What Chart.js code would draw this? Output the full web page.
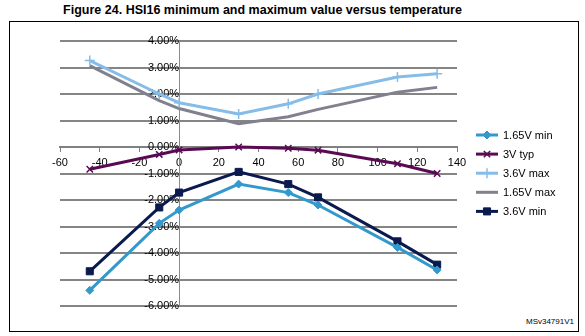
<!DOCTYPE html>
<html>
<head>
<meta charset="utf-8">
<script src="https://cdn.jsdelivr.net/npm/chart.js@4/dist/chart.umd.min.js"></script>
<style>
  html, body { margin: 0; padding: 0; background: #fff; }
  body { width: 585px; height: 336px; position: relative; overflow: hidden; font-family: "Liberation Sans", Arial, sans-serif; }
  #title { position: absolute; left: 0; width: 525px; top: 3px; text-align: center; font-weight: bold; font-size: 12.5px; color: #000; }
  #frame { position: absolute; left: 9px; top: 21px; width: 568px; height: 309px; border: 1px solid #000; }
  #ref { position: absolute; right: 11px; top: 317px; font-size: 8px; color: #000; }
  #wrap { position: absolute; left: 0; top: 0; width: 585px; height: 336px; }
</style>
</head>
<body>
<div id="title">Figure 24. HSI16 minimum and maximum value versus temperature</div>
<div id="frame"></div>
<div id="ref">MSv34791V1</div>
<div id="wrap"><canvas id="c" width="585" height="336"></canvas></div>
<script>
// ---- data (values in %) ----
const temperatures = [-45, -10, 0, 30, 55, 70, 110, 130];
const min165V = [-5.41, -2.88, -2.38, -1.40, -1.72, -2.19, -3.79, -4.64];
const typ3V   = [-0.84, -0.28, -0.11, 0.00, -0.05, -0.12, -0.63, -1.00];
const max36V  = [3.26, 2.00, 1.67, 1.25, 1.63, 2.00, 2.64, 2.76];
const max165V = [3.07, 1.75, 1.45, 0.88, 1.14, 1.42, 2.07, 2.25];
const min36V  = [-4.69, -2.28, -1.72, -0.94, -1.40, -1.90, -3.56, -4.44];
const seriesNames = ['1.65V min', '3V typ', '3.6V max', '1.65V max', '3.6V min'];
const xTicks = [-60, -40, -20, 0, 20, 40, 60, 80, 100, 120, 140];
const yTicks = [4, 3, 2, 1, 0, -1, -2, -3, -4, -5, -6];

const pts = arr => arr.map((v, i) => ({x: temperatures[i], y: v}));

const styles = [
  {color: '#3399CC', pointStyle: 'rectRot', radius: 4},
  {color: '#5A0A52', pointStyle: 'crossRot', radius: 4.5},
  {color: '#85BDE8', pointStyle: 'cross', radius: 5},
  {color: '#80808E', pointStyle: false, radius: 0},
  {color: '#0B1A4E', pointStyle: 'rect', radius: 5}
];
const seriesData = [min165V, typ3V, max36V, max165V, min36V];

const datasets = seriesData.map((d, i) => ({
  label: seriesNames[i],
  data: pts(d),
  borderColor: styles[i].color,
  backgroundColor: styles[i].color,
  borderWidth: 3,
  pointStyle: styles[i].pointStyle,
  pointRadius: styles[i].radius,
  pointBorderWidth: (styles[i].pointStyle === 'cross' || styles[i].pointStyle === 'crossRot') ? 1.5 : 1,
  pointHoverRadius: styles[i].radius,
  tension: 0,
  fill: false
}));

const legendPlugin = {
  id: 'customLegend',
  afterDraw(chart) {
    const ctx = chart.ctx;
    const x0 = 476, x1 = 498, tx = 503, y0 = 135, dy = 19.1;
    chart.data.datasets.forEach((ds, i) => {
      const y = y0 + i * dy;
      ctx.save();
      ctx.strokeStyle = ds.borderColor;
      ctx.lineWidth = 3;
      ctx.beginPath();
      ctx.moveTo(x0, y);
      ctx.lineTo(x1, y);
      ctx.stroke();
      if (ds.pointStyle) {
        ctx.fillStyle = ds.backgroundColor;
        ctx.strokeStyle = ds.borderColor;
        ctx.lineWidth = ds.pointBorderWidth;
        Chart.helpers.drawPoint(ctx, {pointStyle: ds.pointStyle, radius: ds.pointRadius, rotation: 0, borderWidth: ds.pointBorderWidth}, (x0 + x1) / 2, y);
      }
      ctx.fillStyle = '#000';
      ctx.font = '11px "Liberation Sans", Arial, sans-serif';
      ctx.textBaseline = 'middle';
      ctx.textAlign = 'left';
      ctx.fillText(ds.label, tx, y + 0.5);
      ctx.restore();
    });
  }
};

new Chart(document.getElementById('c'), {
  type: 'line',
  data: {datasets},
  options: {
    responsive: false,
    animation: false,
    events: [],
    layout: {padding: {left: 60, right: 128, top: 41, bottom: 30}},
    plugins: {legend: {display: false}, tooltip: {enabled: false}, title: {display: false}},
    scales: {
      x: {
        type: 'linear',
        position: {y: 0},
        min: -60, max: 140,
        afterBuildTicks: s => { s.ticks = xTicks.map(v => ({value: v})); },
        grid: {display: true, drawOnChartArea: false, drawTicks: true, tickLength: 4, color: '#808080', lineWidth: 1},
        border: {display: true, color: '#808080', width: 2},
        ticks: {color: '#000', font: {family: '"Liberation Sans", Arial, sans-serif', size: 11}, padding: 5, maxRotation: 0, autoSkip: false}
      },
      y: {
        type: 'linear',
        position: {x: 0},
        min: -6, max: 4,
        afterBuildTicks: s => { s.ticks = yTicks.map(v => ({value: v})); },
        grid: {display: true, drawOnChartArea: true, drawTicks: false, color: '#858585', lineWidth: 2},
        border: {display: true, color: '#8a8a8a', width: 1},
        ticks: {color: '#000', font: {family: '"Liberation Sans", Arial, sans-serif', size: 11}, padding: 2, callback: v => v.toFixed(2) + '%', autoSkip: false}
      }
    }
  },
  plugins: [legendPlugin]
});
</script>
</body>
</html>
